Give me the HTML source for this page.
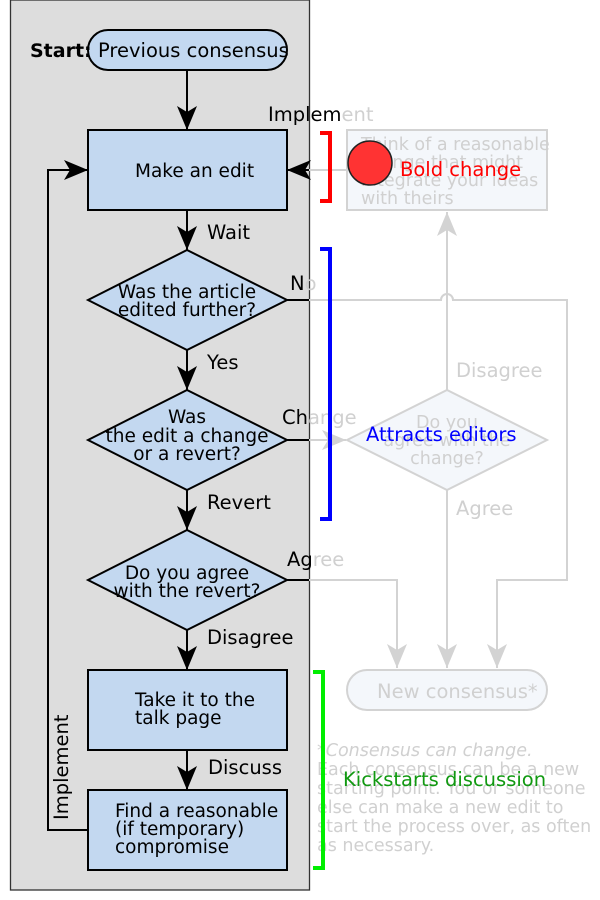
<!DOCTYPE html>
<html><head><meta charset="utf-8"><style>
html,body{margin:0;padding:0;background:#fff;}
svg{display:block;font-family:"DejaVu Sans","Liberation Sans",sans-serif;}
</style></head><body>
<svg width="600" height="900" viewBox="0 0 600 900" xmlns="http://www.w3.org/2000/svg">
<defs>
<marker id="ag" markerWidth="30" markerHeight="30" refX="24" refY="10" orient="auto" markerUnits="userSpaceOnUse"><path d="M0,0 L24,10 L0,20 L6,10 z" fill="#d3d3d3"/></marker>
<marker id="ak" markerWidth="30" markerHeight="30" refX="24" refY="10" orient="auto" markerUnits="userSpaceOnUse"><path d="M0,0 L24,10 L0,20 L6,10 z" fill="#000"/></marker>
</defs>
<rect x="10.5" y="0" width="299" height="890" fill="#dddddd" stroke="#333" stroke-width="1.3"/>

<g stroke="#d3d3d3" stroke-width="2" fill="none">
<line x1="347" y1="170" x2="309" y2="170"/>
<path d="M309,300 H441 a6,6 0 0 1 12,0 H567 V580 H497 V668" marker-end="url(#ag)"/>
<path d="M309,580 H397 V668" marker-end="url(#ag)"/>
<path d="M447,490 V668" marker-end="url(#ag)"/>
<path d="M447,390 V212" marker-end="url(#ag)"/>
<path d="M309,440 H346" marker-end="url(#ag)"/>
</g>
<rect x="347" y="130" width="200" height="80" fill="#f4f7fb" stroke="#d3d3d3" stroke-width="2"/>
<polygon points="347,440 447,390 547,440 447,490" fill="#f4f7fb" stroke="#d3d3d3" stroke-width="2"/>
<rect x="347" y="670" width="200" height="40" rx="20" fill="#f4f7fb" stroke="#d3d3d3" stroke-width="2"/>
<g fill="#d0d0d0" style="font-size:17.5px">
<text x="361" y="150">Think of a reasonable</text>
<text x="361" y="168">change that might</text>
<text x="361" y="186">integrate your ideas</text>
<text x="361" y="204">with theirs</text>
<text x="447" y="428" text-anchor="middle">Do you</text>
<text x="447" y="446" text-anchor="middle">agree with the</text>
<text x="447" y="464" text-anchor="middle">change?</text>
<text x="456" y="377" style="font-size:19.5px">Disagree</text>
<text x="456" y="515" style="font-size:19.5px">Agree</text>
<text x="377" y="698" style="font-size:19.5px">New consensus*</text>
<text x="317" y="756" font-style="italic">*Consensus can change.</text>
<text x="317" y="775">Each consensus can be a new</text>
<text x="317" y="794">starting point. You or someone</text>
<text x="317" y="813">else can make a new edit to</text>
<text x="317" y="832">start the process over, as often</text>
<text x="317" y="851">as necessary.</text>
</g>

<g stroke="#000" stroke-width="2" fill="none">
<line x1="187" y1="70" x2="187" y2="130" marker-end="url(#ak)"/>
<line x1="187" y1="210" x2="187" y2="250" marker-end="url(#ak)"/>
<line x1="187" y1="350" x2="187" y2="390" marker-end="url(#ak)"/>
<line x1="187" y1="490" x2="187" y2="530" marker-end="url(#ak)"/>
<line x1="187" y1="630" x2="187" y2="670" marker-end="url(#ak)"/>
<line x1="187" y1="750" x2="187" y2="790" marker-end="url(#ak)"/>
<path d="M88,830 H48 V170 H88" marker-end="url(#ak)"/>
<line x1="309" y1="170" x2="287" y2="170" marker-end="url(#ak)"/>
<line x1="287" y1="300" x2="309" y2="300"/>
<line x1="287" y1="440" x2="309" y2="440"/>
<line x1="287" y1="580" x2="309" y2="580"/>
</g>
<g fill="#c3d8f0" stroke="#000" stroke-width="2">
<rect x="88" y="30" width="199" height="40" rx="20"/>
<rect x="88" y="130" width="199" height="80"/>
<polygon points="88,300 187,250 287,300 187,350"/>
<polygon points="88,440 187,390 287,440 187,490"/>
<polygon points="88,580 187,530 287,580 187,630"/>
<rect x="88" y="670" width="199" height="80"/>
<rect x="88" y="790" width="199" height="80"/>
</g>
<g fill="#000" style="font-size:18.5px">
<text x="30" y="57" font-weight="bold" style="font-size:19px">Start:</text>
<text x="98" y="57" style="font-size:19.5px">Previous consensus</text>
<text x="135" y="177">Make an edit</text>
<text x="187" y="298" text-anchor="middle">Was the article</text>
<text x="187" y="316" text-anchor="middle">edited further?</text>
<text x="187" y="423" text-anchor="middle">Was</text>
<text x="187" y="442" text-anchor="middle">the edit a change</text>
<text x="187" y="460" text-anchor="middle">or a revert?</text>
<text x="187" y="579" text-anchor="middle">Do you agree</text>
<text x="187" y="597" text-anchor="middle">with the revert?</text>
<text x="135" y="706">Take it to the</text>
<text x="135" y="724">talk page</text>
<text x="115" y="817">Find a reasonable</text>
<text x="115" y="835">(if temporary)</text>
<text x="115" y="853">compromise</text>
<g style="font-size:19.5px">
<text x="268" y="121">Implem<tspan fill="#d0d0d0">ent</tspan></text>
<text x="207" y="239">Wait</text>
<text x="290" y="290">N<tspan fill="#d0d0d0">o</tspan></text>
<text x="207" y="369">Yes</text>
<text x="282" y="424">Ch<tspan fill="#d0d0d0">ange</tspan></text>
<text x="207" y="509">Revert</text>
<text x="287" y="566">Ag<tspan fill="#d0d0d0">ree</tspan></text>
<text x="207" y="644">Disagree</text>
<text x="208" y="774">Discuss</text>
<text transform="translate(68,820) rotate(-90)">Implement</text>
</g>
</g>

<path d="M320,133 H330 V201 H320" fill="none" stroke="#ff0000" stroke-width="4"/>
<path d="M320,249 H330 V519 H320" fill="none" stroke="#0000ff" stroke-width="4"/>
<path d="M313,672 H323 V868 H313" fill="none" stroke="#00ee00" stroke-width="4"/>
<circle cx="370" cy="163" r="22" fill="#f33" stroke="#222" stroke-width="1.5"/>
<text x="400" y="176" fill="#ff0000" style="font-size:19.5px">Bold change</text>
<text x="366" y="441" fill="#0000ff" style="font-size:19.5px">Attracts editors</text>
<text x="343" y="786" fill="#119911" style="font-size:19.5px">Kickstarts discussion</text>
</svg>
</body></html>
